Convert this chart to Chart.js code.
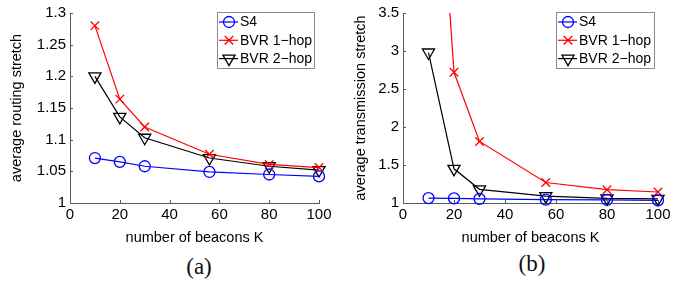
<!DOCTYPE html>
<html>
<head>
<meta charset="utf-8">
<script src="https://cdn.jsdelivr.net/npm/chart.js@4/dist/chart.umd.min.js"></script>
<style>
  body { margin: 0; background: #fff; width: 689px; height: 282px; position: relative; overflow: hidden; }
  canvas { position: absolute; top: 0; }
  #chartA { left: 0; }
  #chartB { left: 345px; }
  .cap { position: absolute; font-family: "Liberation Serif", serif; font-size: 23px; color: #111; transform: translate(-50%, -50%); }
</style>
</head>
<body>
<canvas id="chartA" width="345" height="250"></canvas>
<canvas id="chartB" width="344" height="250"></canvas>
<div class="cap" style="left:199px; top:267px;">(a)</div>
<div class="cap" style="left:532px; top:264px;">(b)</div>
<script>
// number of beacons K
const kValues = [10, 20, 30, 56, 80, 100];

// (a) average routing stretch
const routingS4 = [1.071, 1.065, 1.058, 1.049, 1.045, 1.042];
const routingBvr1 = [1.28, 1.164, 1.12, 1.077, 1.061, 1.056];
const routingBvr2 = [1.2, 1.136, 1.103, 1.071, 1.058, 1.052];

// (b) average transmission stretch
const transS4 = [1.065, 1.06, 1.055, 1.045, 1.04, 1.035];
const transBvr1 = [7.6, 2.72, 1.81, 1.27, 1.175, 1.145];
const transBvr2 = [2.98, 1.45, 1.18, 1.09, 1.06, 1.055];

const seriesNames = ['S4', 'BVR 1\u2212hop', 'BVR 2\u2212hop'];
const xTicks = [0, 20, 40, 60, 80, 100];
const yTicksA = [1, 1.05, 1.1, 1.15, 1.2, 1.25, 1.3];
const yTicksB = [1, 1.5, 2, 2.5, 3, 3.5];

const AXIS = '#5a5a5a';

function makeSets(s4, b1, b2) {
    const pts = arr => arr.map((v, i) => ({ x: kValues[i], y: v }));
    const common = {
        borderWidth: 1.2,
        pointBorderWidth: 1.3,
        pointBackgroundColor: 'rgba(0,0,0,0)',
        clip: { left: false, right: false, top: 0, bottom: false }
    };
    return [
        Object.assign({}, common, { label: seriesNames[0], data: pts(s4), borderColor: '#0000ff', pointBorderColor: '#0000ff', pointStyle: 'circle', pointRadius: 5.5 }),
        Object.assign({}, common, { label: seriesNames[1], data: pts(b1), borderColor: '#ff0000', pointBorderColor: '#ff0000', pointStyle: 'crossRot', pointRadius: 6 }),
        Object.assign({}, common, { label: seriesNames[2], data: pts(b2), borderColor: '#000000', pointBorderColor: '#000000', pointStyle: 'triangle', pointRotation: 180, pointRadius: 7 })
    ];
}

// inward tick marks, matlab style
const inTicks = {
    id: 'inTicks',
    afterDraw(chart) {
        const ctx = chart.ctx, x = chart.scales.x, y = chart.scales.y;
        ctx.save();
        ctx.strokeStyle = AXIS;
        ctx.lineWidth = 1;
        ctx.beginPath();
        x.ticks.forEach(t => {
            const px = Math.round(x.getPixelForValue(t.value)) + 0.5;
            ctx.moveTo(px, y.bottom);
            ctx.lineTo(px, y.bottom - 3);
        });
        y.ticks.forEach(t => {
            const py = Math.round(y.getPixelForValue(t.value)) + 0.5;
            ctx.moveTo(x.left, py);
            ctx.lineTo(x.left + 3, py);
        });
        ctx.stroke();
        ctx.restore();
    }
};

// boxed legend inside the axes
const boxLegend = {
    id: 'boxLegend',
    afterDraw(chart, args, opts) {
        const ctx = chart.ctx;
        ctx.save();
        ctx.fillStyle = '#fff';
        ctx.fillRect(opts.x, opts.y, opts.w, opts.h);
        ctx.strokeStyle = '#8a8a8a';
        ctx.lineWidth = 1;
        ctx.strokeRect(opts.x + 0.5, opts.y + 0.5, opts.w, opts.h);
        chart.data.datasets.forEach((ds, i) => {
            const cy = opts.y + 10 + i * 18.3;
            const x0 = opts.x + 2, x1 = opts.x + 21, cx = opts.x + 12;
            ctx.strokeStyle = ds.borderColor;
            ctx.lineWidth = 1.2;
            ctx.beginPath();
            ctx.moveTo(x0, cy);
            ctx.lineTo(x1, cy);
            ctx.stroke();
            ctx.lineWidth = 1.3;
            ctx.fillStyle = 'rgba(0,0,0,0)';
            Chart.helpers.drawPoint(ctx, {
                pointStyle: ds.pointStyle,
                rotation: ds.pointRotation || 0,
                radius: ds.pointRadius,
                borderWidth: 1.3
            }, cx, cy);
            ctx.fillStyle = '#000';
            ctx.font = '14px "Liberation Sans", Arial, sans-serif';
            ctx.textBaseline = 'middle';
            ctx.fillText(ds.label, opts.x + 23, cy + 0.5);
        });
        ctx.restore();
    }
};

function makeChart(id, sets, yTicks, yTitle, cfg) {
    const tickFont = { family: '"Liberation Sans", Arial, sans-serif', size: 15 };
    const titleFont = { family: '"Liberation Sans", Arial, sans-serif', size: 14.5 };
    return new Chart(document.getElementById(id), {
        type: 'line',
        data: { datasets: sets },
        options: {
            responsive: false,
            animation: false,
            devicePixelRatio: 1,
            layout: { padding: { top: 9, right: cfg.padRight, left: 0, bottom: 0 } },
            plugins: {
                legend: { display: false },
                tooltip: { enabled: false },
                boxLegend: cfg.legend
            },
            scales: {
                x: {
                    type: 'linear',
                    min: 0, max: 100,
                    afterBuildTicks: s => { s.ticks = xTicks.map(v => ({ value: v })); },
                    afterFit: s => { s.height = 47; },
                    grid: { display: true, drawOnChartArea: false, drawTicks: false },
                    border: { color: AXIS, width: 1 },
                    ticks: { color: '#000', font: tickFont, padding: 3, maxRotation: 0, callback: v => String(v) },
                    title: { display: true, text: 'number of beacons K', color: '#000', font: titleFont, padding: { top: 0, bottom: 3.3 } }
                },
                y: {
                    min: yTicks[0], max: yTicks[yTicks.length - 1],
                    afterBuildTicks: s => { s.ticks = yTicks.map(v => ({ value: v })); },
                    afterFit: s => { s.width = cfg.yWidth; },
                    grid: { display: true, drawOnChartArea: false, drawTicks: false },
                    border: { color: AXIS, width: 1 },
                    ticks: { color: '#000', font: tickFont, padding: 4, callback: v => String(v) },
                    title: { display: true, text: yTitle, color: '#000', font: titleFont, padding: { top: cfg.titlePad, bottom: 0 } }
                }
            }
        },
        plugins: [inTicks, boxLegend]
    });
}

window.onload = function () {
    makeChart('chartA', makeSets(routingS4, routingBvr1, routingBvr2), yTicksA, 'average routing stretch',
        { padRight: 26, yWidth: 70, titlePad: 8, legend: { x: 217, y: 12, w: 97, h: 56 } });
    makeChart('chartB', makeSets(transS4, transBvr1, transBvr2), yTicksB, 'average transmission stretch',
        { padRight: 31, yWidth: 58, titlePad: 7, legend: { x: 211, y: 12, w: 98, h: 56 } });
};
</script>
</body>
</html>
